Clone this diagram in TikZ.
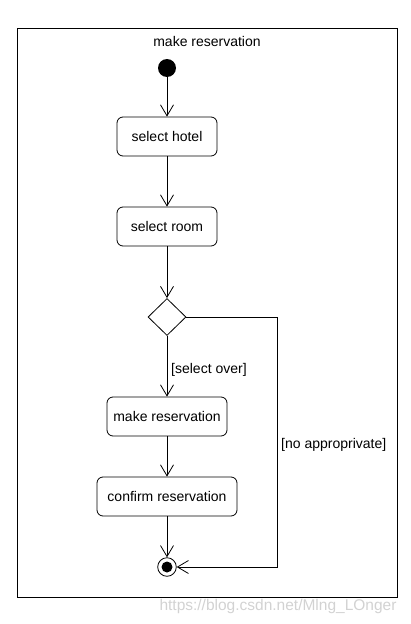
\documentclass[tikz,border=0pt]{standalone}
\usepackage{fontspec}
\setmainfont{Liberation Sans}
\usetikzlibrary{shapes.geometric,arrows.meta}
\begin{document}
\begin{tikzpicture}[x=1pt,y=-1pt,
  every node/.style={font=\fontsize{14}{16}\selectfont},
  act/.style={draw,rounded corners=6pt,minimum height=39pt,inner sep=0pt,line width=0.8pt},
  flow/.style={draw,line width=0.8pt,-{Straight Barb[length=11pt,width=13pt,line width=0.8pt]}},
  lbl/.style={anchor=west,inner sep=0pt}]
\useasboundingbox (0,0) rectangle (410,624);
\node[draw,line width=0.8pt,minimum width=380pt,minimum height=569pt,inner sep=0pt] (frame) at (207,312.5) {};
\node (title) at (207,41) {make reservation};
\node[circle,fill=black,minimum size=18pt,inner sep=0pt] (start) at (167,68) {};
\node[act,minimum width=100pt] (hotel) at (167,136.5) {select hotel};
\node[act,minimum width=100pt] (room) at (167,226.5) {select room};
\node[diamond,draw,line width=0.8pt,minimum width=38pt,minimum height=37pt,inner sep=0pt] (dec) at (167,317) {};
\node[act,minimum width=120pt] (make) at (167,416.5) {make reservation};
\node[act,minimum width=140pt] (confirm) at (167,496.5) {confirm reservation};
\node[circle,draw,line width=0.8pt,minimum size=18.6pt,inner sep=0pt] (end) at (167,567) {};
\fill (end.center) circle (5.5pt);
\coordinate (corner) at (277,317);
\draw[flow] (start) -- (hotel);
\draw[flow] (hotel) -- (room);
\draw[flow] (room) -- (dec);
\draw[flow] (dec) -- (make);
\draw[flow] (make) -- (confirm);
\draw[flow] (confirm) -- (end);
\draw[flow] (dec.east) -- (corner) |- (end.east);
\node[lbl] (l1) at (171,370) {[select over]};
\node[lbl] (l2) at (281,445) {[no approprivate]};
\node[text=gray!35,font=\fontsize{15.5}{18}\selectfont] (wm) at (278,606) {https://blog.csdn.net/Mlng\_LOnger};
\end{tikzpicture}
\end{document}
